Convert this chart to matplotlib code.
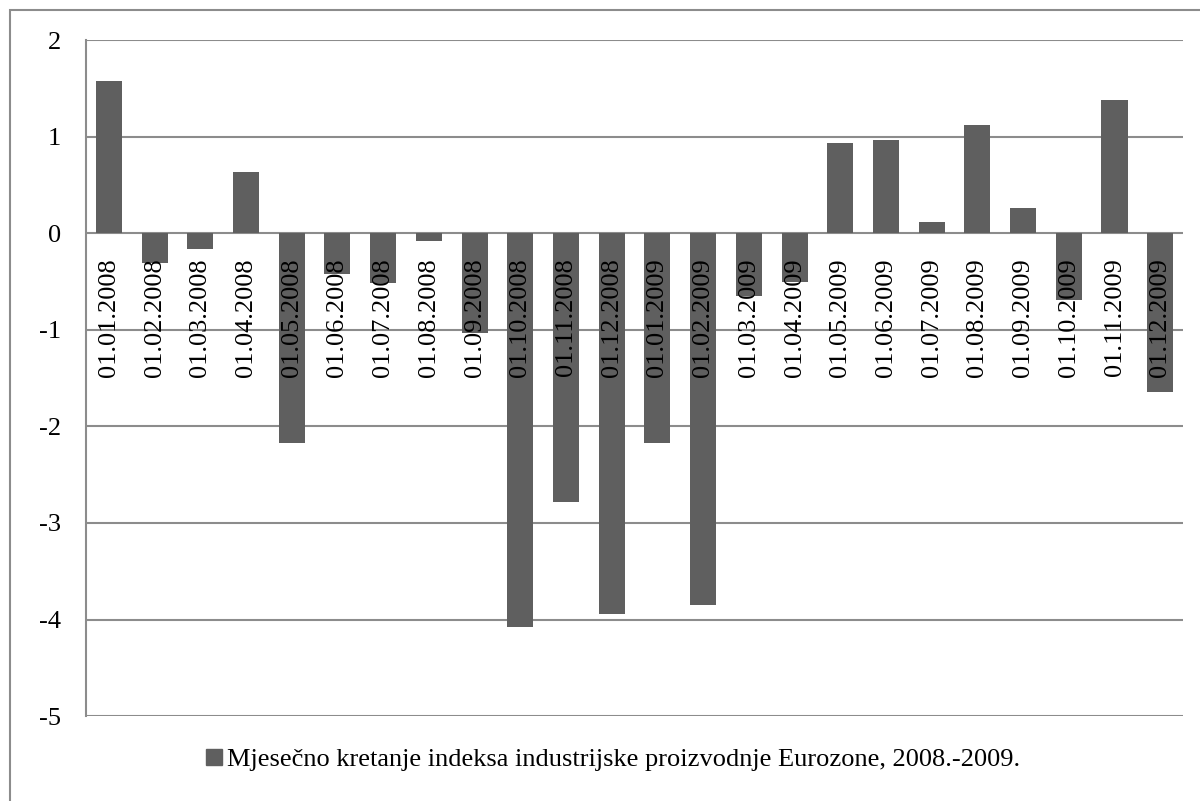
import matplotlib.pyplot as plt
from matplotlib.patches import Rectangle, Patch

# Monthly change of the Eurozone industrial production index
months = ['01.01.2008', '01.02.2008', '01.03.2008', '01.04.2008', '01.05.2008', '01.06.2008',
          '01.07.2008', '01.08.2008', '01.09.2008', '01.10.2008', '01.11.2008', '01.12.2008',
          '01.01.2009', '01.02.2009', '01.03.2009', '01.04.2009', '01.05.2009', '01.06.2009',
          '01.07.2009', '01.08.2009', '01.09.2009', '01.10.2009', '01.11.2009', '01.12.2009']
values = [1.58, -0.31, -0.16, 0.63, -2.17, -0.42,
          -0.52, -0.08, -1.03, -4.08, -2.78, -3.94,
          -2.17, -3.85, -0.65, -0.51, 0.93, 0.96,
          0.12, 1.12, 0.26, -0.69, 1.38, -1.64]
yticks = [-5, -4, -3, -2, -1, 0, 1, 2]
series_name = 'Mjesečno kretanje indeksa industrijske proizvodnje Eurozone, 2008.-2009.'

plt.rcParams['font.family'] = ['Liberation Serif', 'DejaVu Serif']
grid_col = '#8c8c8c'
bar_col = '#5f5f5f'

fig = plt.figure(figsize=(12, 8.01), dpi=100)
ax = fig.add_axes([0.0717, 0.106, 0.9142, 0.844])

# outer chart frame
fig.patches.append(Rectangle((10 / 1200, -0.1), 1.2, 0.1 + (801 - 10) / 801,
                             transform=fig.transFigure, fill=False,
                             edgecolor=grid_col, linewidth=1.5))

x = list(range(len(months)))
ax.bar(x, values, width=0.57, color=bar_col, zorder=3)

for i, lab in enumerate(months):
    ax.annotate(lab, (i, 0), xytext=(0, -18), textcoords='offset points',
                rotation=90, ha='center', va='top', fontsize=19, zorder=4)

ax.set_xlim(-0.5, len(months) - 0.5)
ax.set_ylim(-5, 2)
ax.set_yticks(yticks)
ax.set_yticklabels([str(t) for t in yticks], fontsize=19)
ax.set_xticks([])
ax.tick_params(axis='y', length=0, pad=18)
for yv in yticks:
    ax.axhline(yv, color=grid_col, linewidth=1.5, zorder=1)
for side in ['top', 'right', 'bottom']:
    ax.spines[side].set_visible(False)
ax.spines['left'].set_color(grid_col)
ax.spines['left'].set_linewidth(1.5)

fig.legend(handles=[Patch(color=bar_col, label=series_name)],
           loc='center', bbox_to_anchor=(0.511, 1 - 760 / 801), frameon=False,
           fontsize=19, handlelength=0.6, handleheight=0.6, handletextpad=0.2)

fig.savefig('out.png', dpi=100)
